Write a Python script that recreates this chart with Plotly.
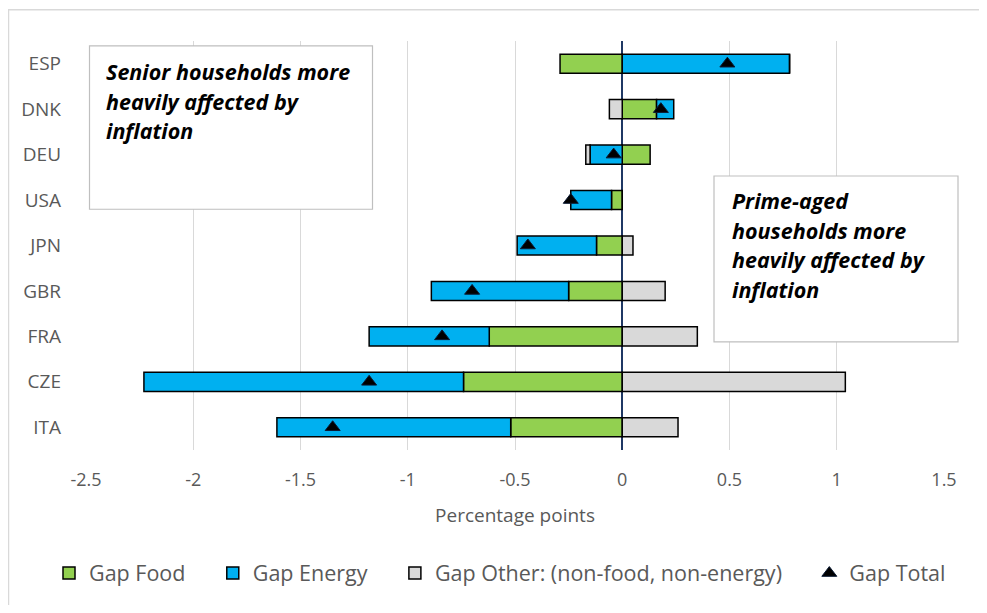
import plotly.graph_objects as go

# ---- data ----
countries = ["ESP", "DNK", "DEU", "USA", "JPN", "GBR", "FRA", "CZE", "ITA"]
gap_food = [-0.29, 0.16, 0.13, -0.05, -0.12, -0.25, -0.62, -0.74, -0.52]
gap_energy = [0.78, 0.08, -0.15, -0.19, -0.37, -0.64, -0.56, -1.49, -1.09]
gap_other = [0.0, -0.06, -0.02, 0.0, 0.05, 0.20, 0.35, 1.04, 0.26]
gap_total = [0.49, 0.18, -0.04, -0.24, -0.44, -0.70, -0.84, -1.18, -1.35]
tick_vals = [-2.5, -2, -1.5, -1, -0.5, 0, 0.5, 1, 1.5]
tick_text = ["-2.5", "-2", "-1.5", "-1", "-0.5", "0", "0.5", "1", "1.5"]

# ---- layout geometry (page pixels; the page body has an 8px margin) ----
OFF = 8
W, H = 987 - 2 * OFF, 613 - 2 * OFF
PL, PR, PT, PB = 86 - OFF, 944 - OFF, 41 - OFF, 453 - OFF


def px(x):
    """page x pixel -> paper coordinate"""
    return (x - OFF - PL) / (PR - PL)


def py(y):
    """page y pixel -> paper coordinate"""
    return (PB - (y - OFF)) / (PB - PT)


FONT = "Open Sans"
GREY = "#595959"
PAD = "\u00a0" * 4

fig = go.Figure()
fig.add_trace(go.Bar(y=countries, x=gap_food, orientation="h", name="Gap Food" + PAD,
                     marker=dict(color="#92D050", line=dict(color="#000000", width=1.5))))
fig.add_trace(go.Bar(y=countries, x=gap_energy, orientation="h", name="Gap Energy" + PAD,
                     marker=dict(color="#00B0F0", line=dict(color="#000000", width=1.5))))
fig.add_trace(go.Bar(y=countries, x=gap_other, orientation="h",
                     name="Gap Other: (non-food, non-energy)" + PAD,
                     marker=dict(color="#D9D9D9", line=dict(color="#000000", width=1.5))))
fig.add_trace(go.Scatter(y=countries, x=gap_total, mode="markers", name="Gap Total",
                         marker=dict(symbol="triangle-up", size=13, color="#000000",
                                     line=dict(color="#0b1a33", width=1))))

shapes = [
    # chart border
    dict(type="rect", xref="paper", yref="paper", x0=px(8.5), x1=px(1010), y0=py(9.5), y1=py(650),
         line=dict(color="#d9d9d9", width=1.5), fillcolor="rgba(0,0,0,0)", layer="below"),
    # text boxes
    dict(type="rect", xref="paper", yref="paper", x0=px(89.5), x1=px(372.5), y0=py(46), y1=py(210.5),
         line=dict(color="#bfbfbf", width=1.2), fillcolor="white", layer="above"),
    dict(type="rect", xref="paper", yref="paper", x0=px(714), x1=px(958), y0=py(177), y1=py(344),
         line=dict(color="#bfbfbf", width=1.2), fillcolor="white", layer="above"),
]

annotations = []
left_lines = ["Senior households more", "heavily affected by", "inflation"]
for i, t in enumerate(left_lines):
    annotations.append(dict(xref="paper", yref="paper", x=px(104), y=py(71.5 + 30 * i),
                            xanchor="left", yanchor="middle", showarrow=False,
                            text="<b><i>" + t + "</i></b>",
                            font=dict(family=FONT, size=21.5, color="#000000")))
right_lines = ["Prime-aged", "households more", "heavily affected by", "inflation"]
for i, t in enumerate(right_lines):
    annotations.append(dict(xref="paper", yref="paper", x=px(729.5), y=py(201.5 + 30 * i),
                            xanchor="left", yanchor="middle", showarrow=False,
                            text="<b><i>" + t + "</i></b>",
                            font=dict(family=FONT, size=21.5, color="#000000")))

fig.update_layout(
    width=W, height=H,
    margin=dict(l=PL, r=W - PR, t=PT, b=H - PB, pad=0),
    paper_bgcolor="white", plot_bgcolor="white",
    barmode="relative", bargap=0.58,
    font=dict(family=FONT, size=19, color=GREY),
    showlegend=True,
    legend=dict(orientation="h", x=px(49), xanchor="left", y=py(577), yanchor="middle",
                font=dict(family=FONT, size=21.5, color=GREY), bgcolor="rgba(0,0,0,0)",
                traceorder="normal", itemwidth=30),
    xaxis=dict(range=[-2.5, 1.5], tickvals=tick_vals, ticktext=tick_text,
               showgrid=True, gridcolor="#d9d9d9", gridwidth=1,
               zeroline=True, zerolinecolor="#1f3864", zerolinewidth=1.5,
               showline=False, ticks="", ticklabelstandoff=17, automargin=False,
               tickfont=dict(family=FONT, size=18, color=GREY),
               title=dict(text="Percentage points", standoff=18,
                          font=dict(family=FONT, size=19, color=GREY))),
    yaxis=dict(type="category", range=[len(countries) - 0.5, -0.5], showgrid=False,
               zeroline=False, showline=False, ticks="", ticklabelstandoff=24,
               automargin=False, tickfont=dict(family=FONT, size=19, color=GREY)),
    shapes=shapes,
    annotations=annotations,
)

fig.write_html("out.html")
